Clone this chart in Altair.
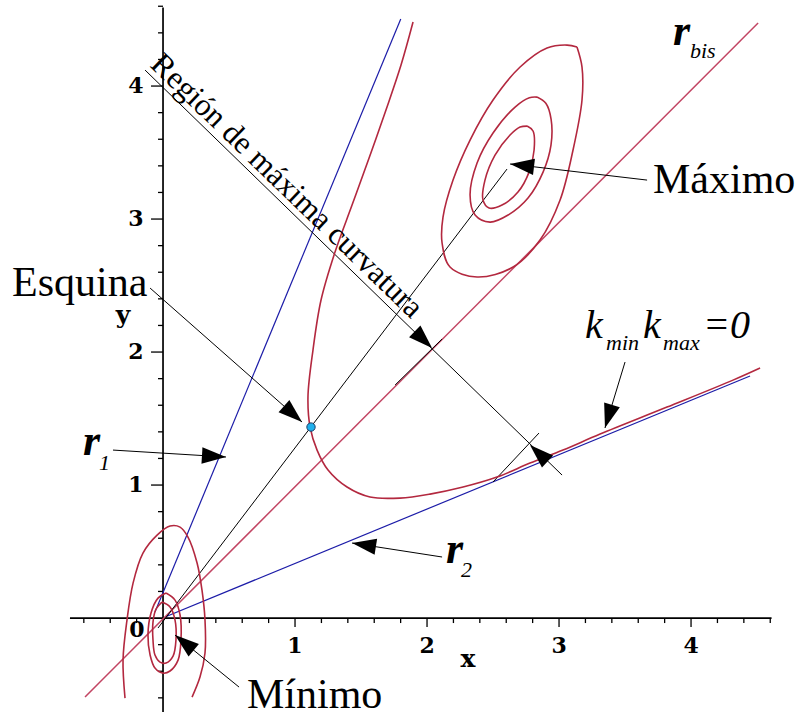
import math
import altair as alt
import pandas as pd

# Plot window in data units (same scale on both axes, axes cross at the origin)
W, H = 801, 717
X_DOMAIN = [-1.235, 4.833]
Y_DOMAIN = [-0.744, 4.647]
SX = W / (X_DOMAIN[1] - X_DOMAIN[0])
SY = H / (Y_DOMAIN[1] - Y_DOMAIN[0])

RED = "#b3283f"
RED_LIGHT = "#c24563"
BLUE = "#1c1ca8"
SERIF = "Liberation Serif"
TICK_FONT = "DejaVu Serif"

# ---- level curves ----------------------------------------------------------
# curve k_min*k_max = 0 (open)
parab_x = [1.894, 1.803, 1.689, 1.561, 1.432, 1.303, 1.197, 1.136, 1.098, 1.114,
           1.167, 1.250, 1.394, 1.568, 1.795, 2.023, 2.273, 2.530, 2.780, 3.030,
           3.311, 3.818, 4.318, 4.523]
parab_y = [4.481, 4.158, 3.820, 3.459, 3.105, 2.752, 2.391, 2.015, 1.662, 1.436,
           1.263, 1.113, 0.985, 0.910, 0.902, 0.932, 0.985, 1.060, 1.165, 1.263,
           1.383, 1.586, 1.789, 1.880]

# contours around the minimum
min_outer_x = [-0.288, -0.303, -0.273, -0.227, -0.152, -0.045, 0.053, 0.129, 0.189,
               0.258, 0.295, 0.318, 0.318, 0.280, 0.220]
min_outer_y = [-0.602, -0.316, -0.015, 0.263, 0.489, 0.624, 0.692, 0.684, 0.609,
               0.414, 0.211, -0.015, -0.263, -0.444, -0.594]
min_mid_x = [0.023, 0.091, 0.129, 0.136, 0.114, 0.053, 0.0, -0.061, -0.098, -0.114,
             -0.091, -0.038]
min_mid_y = [0.188, 0.135, 0.023, -0.165, -0.316, -0.398, -0.414, -0.376, -0.278,
             -0.128, 0.038, 0.150]
min_in_x = [-0.008, 0.053, 0.091, 0.098, 0.076, 0.023, -0.023, -0.061, -0.076,
            -0.076, -0.053]
min_in_y = [0.120, 0.083, -0.015, -0.165, -0.286, -0.338, -0.331, -0.278, -0.165,
            -0.030, 0.068]

# contours around the maximum
max_outer_x = [3.136, 3.174, 3.174, 3.106, 3.008, 2.856, 2.652, 2.379, 2.174, 2.114,
               2.121, 2.197, 2.326, 2.500, 2.705, 2.909, 3.061]
max_outer_y = [4.293, 4.143, 3.895, 3.519, 3.143, 2.842, 2.639, 2.564, 2.639, 2.820,
               3.015, 3.293, 3.594, 3.895, 4.143, 4.286, 4.308]
max_mid_x = [2.833, 2.900, 2.940, 2.939, 2.879, 2.765, 2.614, 2.477, 2.364, 2.326,
             2.379, 2.500, 2.667, 2.775]
max_mid_y = [3.917, 3.870, 3.750, 3.556, 3.353, 3.158, 3.030, 2.977, 3.030, 3.180,
             3.421, 3.647, 3.842, 3.912]
max_in_x = [2.758, 2.803, 2.811, 2.773, 2.689, 2.568, 2.470, 2.424, 2.439, 2.515,
            2.629, 2.705]
max_in_y = [3.699, 3.662, 3.519, 3.353, 3.203, 3.105, 3.083, 3.143, 3.293, 3.481,
            3.632, 3.692]

curves = [
    ("parab", parab_x, parab_y, False),
    ("min_outer", min_outer_x, min_outer_y, False),
    ("min_mid", min_mid_x, min_mid_y, True),
    ("min_in", min_in_x, min_in_y, True),
    ("max_outer", max_outer_x, max_outer_y, True),
    ("max_mid", max_mid_x, max_mid_y, True),
    ("max_in", max_in_x, max_in_y, True),
]

# ---- straight lines: (x1, y1, x2, y2) -------------------------------------
r1_line = (-0.061, 0.045, 1.801, 4.504)
r2_line = (0.015, 0.008, 4.447, 1.820)
rbis_line = (-0.591, -0.594, 4.508, 4.474)
corner_line = (-0.038, -0.075, 2.606, 3.376)
dim_line = (-0.136, 4.120, 3.023, 1.075)
ext_line_1 = (1.758, 1.752, 2.114, 2.098)
ext_line_2 = (2.500, 1.023, 2.848, 1.391)

# ---- arrows: (x_from, y_from, x_tip, y_tip, draw shaft) -------------------
arrows = [
    (3.667, 3.293, 2.629, 3.414, True),    # Máximo
    (-0.098, 2.481, 1.053, 1.474, True),   # Esquina
    (-0.379, 1.263, 0.477, 1.211, True),   # r1
    (2.114, 0.459, 1.432, 0.564, True),    # r2
    (3.500, 1.925, 3.348, 1.429, True),    # k_min k_max = 0
    (0.576, -0.519, 0.091, -0.128, True),  # Mínimo
    (-0.136, 4.120, 2.038, 2.030, False),  # width of the region, upper end
    (3.023, 1.075, 2.780, 1.301, False),   # width of the region, lower end
]

corner_pt = (1.121, 1.436)

# ---- axes -----------------------------------------------------------------
axis_x_range = (-0.705, 4.61)
axis_y_range = (-0.707, 4.59)
x_tick_labels = ["1", "2", "3", "4"]
y_tick_labels = ["1", "2", "3", "4"]

xs = alt.X("x:Q", scale=alt.Scale(domain=X_DOMAIN, nice=False, zero=False), axis=None)
ys = alt.Y("y:Q", scale=alt.Scale(domain=Y_DOMAIN, nice=False, zero=False), axis=None)


def seg_layer(segs, color, width):
    df = pd.DataFrame(segs, columns=["x", "y", "x2", "y2"])
    return alt.Chart(df).mark_rule(color=color, strokeWidth=width).encode(
        x=xs, y=ys, x2="x2:Q", y2="y2:Q")


def text_layer(x, y, text, size, **kw):
    df = pd.DataFrame({"x": [x], "y": [y], "t": [text]})
    props = dict(align="left", baseline="alphabetic", font=SERIF, fontSize=size,
                 color="black")
    props.update(kw)
    return alt.Chart(df).mark_text(**props).encode(x=xs, y=ys, text="t:N")


layers = []

# axes with ticks
ax_segs = [(axis_x_range[0], 0, axis_x_range[1], 0), (0, axis_y_range[0], 0, axis_y_range[1])]
layers.append(seg_layer(ax_segs, "black", 1.7))
tick_segs = []
for k in range(-3, 24):
    v = k * 0.2
    major = k % 5 == 0
    lx = (9 if major else 5) / SY
    ly = (12 if major else 5) / SX
    if k != 0:
        tick_segs.append((v, 0, v, -lx))
        tick_segs.append((0, v, -ly, v))
layers.append(seg_layer(tick_segs, "black", 1.3))

tick_font = dict(align="center", baseline="middle", fontWeight="bold", font=TICK_FONT)
for i, lab in enumerate(x_tick_labels):
    layers.append(text_layer(i + 1, -0.21, lab, 22, **tick_font))
for i, lab in enumerate(y_tick_labels):
    layers.append(text_layer(-0.205, i + 1, lab, 22, **tick_font))
layers.append(text_layer(-0.197, -0.09, "0", 22, **tick_font))
layers.append(text_layer(2.31, -0.31, "x", 25, **tick_font))
layers.append(text_layer(-0.303, 2.275, "y", 25, **tick_font))

# straight lines
layers.append(seg_layer([r1_line, r2_line], BLUE, 1.2))
layers.append(seg_layer([rbis_line], RED_LIGHT, 1.5))
layers.append(seg_layer([corner_line, dim_line, ext_line_1, ext_line_2], "black", 1.0))

# level curves
rows = []
for name, cx, cy, closed in curves:
    px, py = list(cx), list(cy)
    if closed:
        px.append(px[0])
        py.append(py[0])
    for i, (a, b) in enumerate(zip(px, py)):
        rows.append({"curve": name, "i": i, "x": a, "y": b})
layers.append(
    alt.Chart(pd.DataFrame(rows)).mark_line(color=RED, strokeWidth=1.6,
                                            interpolate="catmull-rom").encode(
        x=xs, y=ys, detail="curve:N", order="i:Q"))

# arrows
shafts = [(a[0], a[1], a[2], a[3]) for a in arrows if a[4]]
layers.append(seg_layer(shafts, "black", 1.0))
heads = []
for x0, y0, x1, y1, _ in arrows:
    dx = (x1 - x0) * SX
    dy = -(y1 - y0) * SY
    ang = math.degrees(math.atan2(dx, -dy)) % 360
    heads.append({"x": x1, "y": y1, "ang": ang})
arrow_path = "M0,0L-0.68,2L0.68,2Z"
layers.append(
    alt.Chart(pd.DataFrame(heads)).mark_point(shape=arrow_path, filled=True, color="black",
                                              size=580, opacity=1).encode(
        x=xs, y=ys, angle=alt.Angle("ang:Q", scale=None)))

# corner point
layers.append(
    alt.Chart(pd.DataFrame({"x": [corner_pt[0]], "y": [corner_pt[1]]})).mark_point(
        shape="circle", filled=True, fill="#1fb0ec", stroke="#1b3d66", strokeWidth=1,
        size=70, opacity=1).encode(x=xs, y=ys))

# labels
layers.append(text_layer(-0.106, 4.150, "Región de máxima curvatura", 31.5, angle=44))
layers.append(text_layer(3.712, 3.195, "Máximo", 42))
layers.append(text_layer(-1.144, 2.421, "Esquina", 42))
layers.append(text_layer(0.636, -0.677, "Mínimo", 42))
layers.append(text_layer(3.864, 4.308, "r", 44, fontStyle="italic", fontWeight="bold"))
layers.append(text_layer(3.992, 4.211, "bis", 22, fontStyle="italic"))
layers.append(text_layer(-0.606, 1.226, "r", 44, fontStyle="italic", fontWeight="bold"))
layers.append(text_layer(-0.485, 1.113, "1", 22, fontStyle="italic"))
layers.append(text_layer(2.144, 0.414, "r", 44, fontStyle="italic", fontWeight="bold"))
layers.append(text_layer(2.258, 0.308, "2", 22, fontStyle="italic"))
layers.append(text_layer(3.197, 2.105, "k", 40, fontStyle="italic"))
layers.append(text_layer(3.356, 2.015, "min", 22, fontStyle="italic"))
layers.append(text_layer(3.636, 2.105, "k", 40, fontStyle="italic"))
layers.append(text_layer(3.788, 2.015, "max", 22, fontStyle="italic"))
layers.append(text_layer(4.091, 2.105, "=0", 40, fontStyle="italic"))

chart = alt.layer(*layers).properties(
    width=W, height=H, padding=0, autosize=alt.AutoSizeParams(type="none"),
    background="white",
).configure_view(stroke=None)

chart.save("out.html", embed_options={"renderer": "svg", "actions": False})
